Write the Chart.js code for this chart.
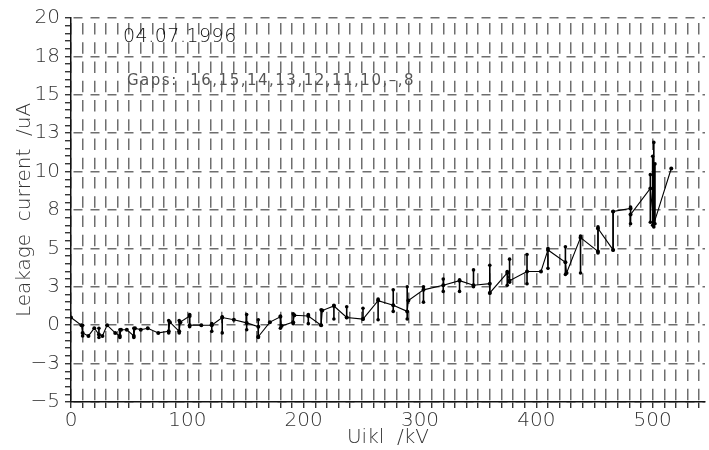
<!DOCTYPE html>
<html>
<head>
<meta charset="utf-8">
<script src="https://cdn.jsdelivr.net/npm/chart.js@4.4.1/dist/chart.umd.min.js"></script>
<style>
  html, body { margin: 0; padding: 0; background: #fff; }
  #wrap { width: 709px; height: 450px; }
</style>
</head>
<body>
<div id="wrap"><canvas id="leakChart" width="709" height="450"></canvas></div>
<script>
// measured line: voltage (kV) and leakage current (uA), in recording order
const lineKV = [0, 9, 10, 15, 20, 24, 27, 31, 38, 42, 43, 48, 54, 55, 60, 66, 75, 84, 85, 93,
    94, 102, 102, 112, 121, 130, 140, 151, 161, 161, 171, 180, 181, 191, 192, 204, 215, 216, 226, 237,
    251, 264, 277, 289, 290, 303, 320, 334, 346, 360, 360, 375, 377, 392, 404, 410, 425, 426, 438, 453,
    453, 466, 466, 481, 481, 498, 501, 516];
const lineUA = [0.5, 0.0, -0.5, -0.7, -0.2, -0.6, -0.7, 0.0, -0.5, -0.7, -0.3, -0.3, -0.7, -0.2, -0.3, -0.2, -0.5, -0.4, 0.2, -0.4,
    0.2, 0.6, 0.0, 0.0, 0.0, 0.5, 0.35, 0.15, -0.1, -0.75, 0.2, 0.55, -0.05, 0.2, 0.65, 0.6, 0.0, 0.95, 1.25, 0.5,
    0.4, 1.6, 1.3, 0.9, 1.6, 2.3, 2.6, 2.9, 2.6, 2.7, 2.1, 3.4, 2.9, 3.5, 3.5, 4.9, 4.1, 3.4, 5.7, 4.8,
    6.3, 4.9, 7.4, 7.6, 7.2, 8.9, 6.6, 10.2];

// scatter of the readings at each step (min / max)
const errKV = [10, 24, 42, 54, 84, 93, 102, 121, 130, 151, 161, 180, 191, 204, 215, 226, 237, 251, 264, 277,
    289, 303, 320, 334, 346, 360, 375, 377, 392, 410, 425, 438, 453, 466, 481, 498, 500, 501, 502];
const errLo = [-0.7, -0.8, -0.8, -0.8, -0.5, -0.5, -0.1, -0.4, -0.5, -0.3, -0.8, -0.2, 0.1, 0.1, 0.0, 0.4, 0.5, 0.4, 0.35, 0.9,
    0.4, 1.5, 2.2, 2.2, 2.5, 2.1, 2.6, 2.8, 2.7, 3.7, 3.3, 3.4, 4.7, 4.9, 6.6, 6.7, 6.5, 6.4, 6.6];
const errHi = [0.0, -0.2, -0.3, -0.2, 0.3, 0.3, 0.7, 0.1, 0.55, 0.7, 0.35, 0.6, 0.75, 0.7, 1.0, 1.3, 1.2, 1.1, 1.7, 2.3,
    2.5, 2.5, 3.0, 2.95, 3.6, 3.9, 3.5, 4.3, 4.6, 5.0, 5.1, 5.8, 6.4, 7.4, 7.7, 9.8, 11.0, 11.9, 10.5];

const yTickValues = [-5, -2.5, 0, 2.5, 5, 7.5, 10, 12.5, 15, 17.5, 20];
const yTickLabels = ['−5', '−3', '0', '3', '5', '8', '10', '13', '15', '18', '20'];
const xLabelStep = 100;

const dateText = '04.07.1996';
const gapsText = 'Gaps:  16,15,14,13,12,11,10,–,8';

const FONT = '"DejaVu Sans", sans-serif';
const TEXT_COLOR = '#333';
const GRID_COLOR = '#6e6e6e';

function drawLeakageChart() {
    const canvas = document.getElementById('leakChart');
    if (!canvas) {
        console.error("Canvas 'leakChart' not found.");
        return;
    }
    const ctx = canvas.getContext('2d');

    const lineData = lineKV.map((kv, i) => ({x: kv, y: lineUA[i]}));
    const errData = [];
    errKV.forEach((kv, i) => {
        errData.push({x: kv, y: errLo[i]});
        errData.push({x: kv, y: errHi[i]});
        errData.push({x: kv, y: null});
    });

    // free text written on the plot
    const notes = {
        id: 'notes',
        afterDraw(chart) {
            const c = chart.ctx;
            c.save();
            c.textBaseline = 'alphabetic';
            c.fillStyle = '#111';
            c.font = '200 19px ' + FONT;
            c.letterSpacing = '0.5px';
            c.fillText(dateText, 123, 42);
            c.fillStyle = '#555';
            c.font = '15px ' + FONT;
            c.letterSpacing = '1.5px';
            c.fillText(gapsText, 127, 85);
            c.restore();
        }
    };

    new Chart(ctx, {
        type: 'line',
        data: {
            datasets: [{
                label: 'scatter',
                data: errData,
                borderColor: '#000',
                borderWidth: 1.6,
                pointRadius: 1.8,
                pointBackgroundColor: '#000',
                pointBorderWidth: 0,
                spanGaps: false
            }, {
                label: 'leakage',
                data: lineData,
                borderColor: '#000',
                borderWidth: 1.1,
                pointRadius: 2,
                pointBackgroundColor: '#000',
                pointBorderWidth: 0,
                tension: 0
            }]
        },
        options: {
            responsive: false,
            animation: false,
            layout: {padding: {top: 18, right: 0, left: 0, bottom: 0}},
            plugins: {legend: {display: false}, tooltip: {enabled: false}},
            scales: {
                x: {
                    type: 'linear',
                    min: 0,
                    max: 545,
                    afterFit: s => { s.height = 48; },
                    border: {display: true, color: '#111', width: 1.5, dash: [11.5, 7.75], dashOffset: 14.25},
                    grid: {color: GRID_COLOR, lineWidth: 1.5, tickColor: '#111', tickLength: 6, tickWidth: 1.2},
                    ticks: {
                        stepSize: 10,
                        includeBounds: false,
                        autoSkip: false,
                        maxRotation: 0,
                        padding: 1,
                        color: TEXT_COLOR,
                        font: {family: FONT, size: 20, weight: 200},
                        callback: v => (v % xLabelStep === 0 ? String(v) : '')
                    },
                    title: {
                        display: true,
                        text: 'Uikl  /kV',
                        color: TEXT_COLOR,
                        font: {family: FONT, size: 20, weight: 200},
                        padding: {top: 0, bottom: 0}
                    }
                },
                y: {
                    type: 'linear',
                    min: -5,
                    max: 20,
                    afterFit: s => { s.width = 71; },
                    border: {display: true, color: '#111', width: 1.5, dash: [9, 8], dashOffset: 15},
                    grid: {
                        color: c => (c.tick && yTickValues.includes(c.tick.value) ? GRID_COLOR : 'transparent'),
                        lineWidth: 1.5,
                        tickColor: '#111',
                        tickLength: 6,
                        tickWidth: 1.2
                    },
                    ticks: {
                        stepSize: 0.5,
                        autoSkip: false,
                        padding: 5,
                        color: TEXT_COLOR,
                        font: {family: FONT, size: 20, weight: 200},
                        callback: v => {
                            const i = yTickValues.indexOf(v);
                            return i >= 0 ? yTickLabels[i] : '';
                        }
                    },
                    title: {
                        display: true,
                        text: 'Leakage  current  /uA',
                        color: TEXT_COLOR,
                        font: {family: FONT, size: 20, weight: 200},
                        padding: {top: 13, bottom: 0}
                    }
                }
            }
        },
        plugins: [notes]
    });
}

drawLeakageChart();
</script>
</body>
</html>
